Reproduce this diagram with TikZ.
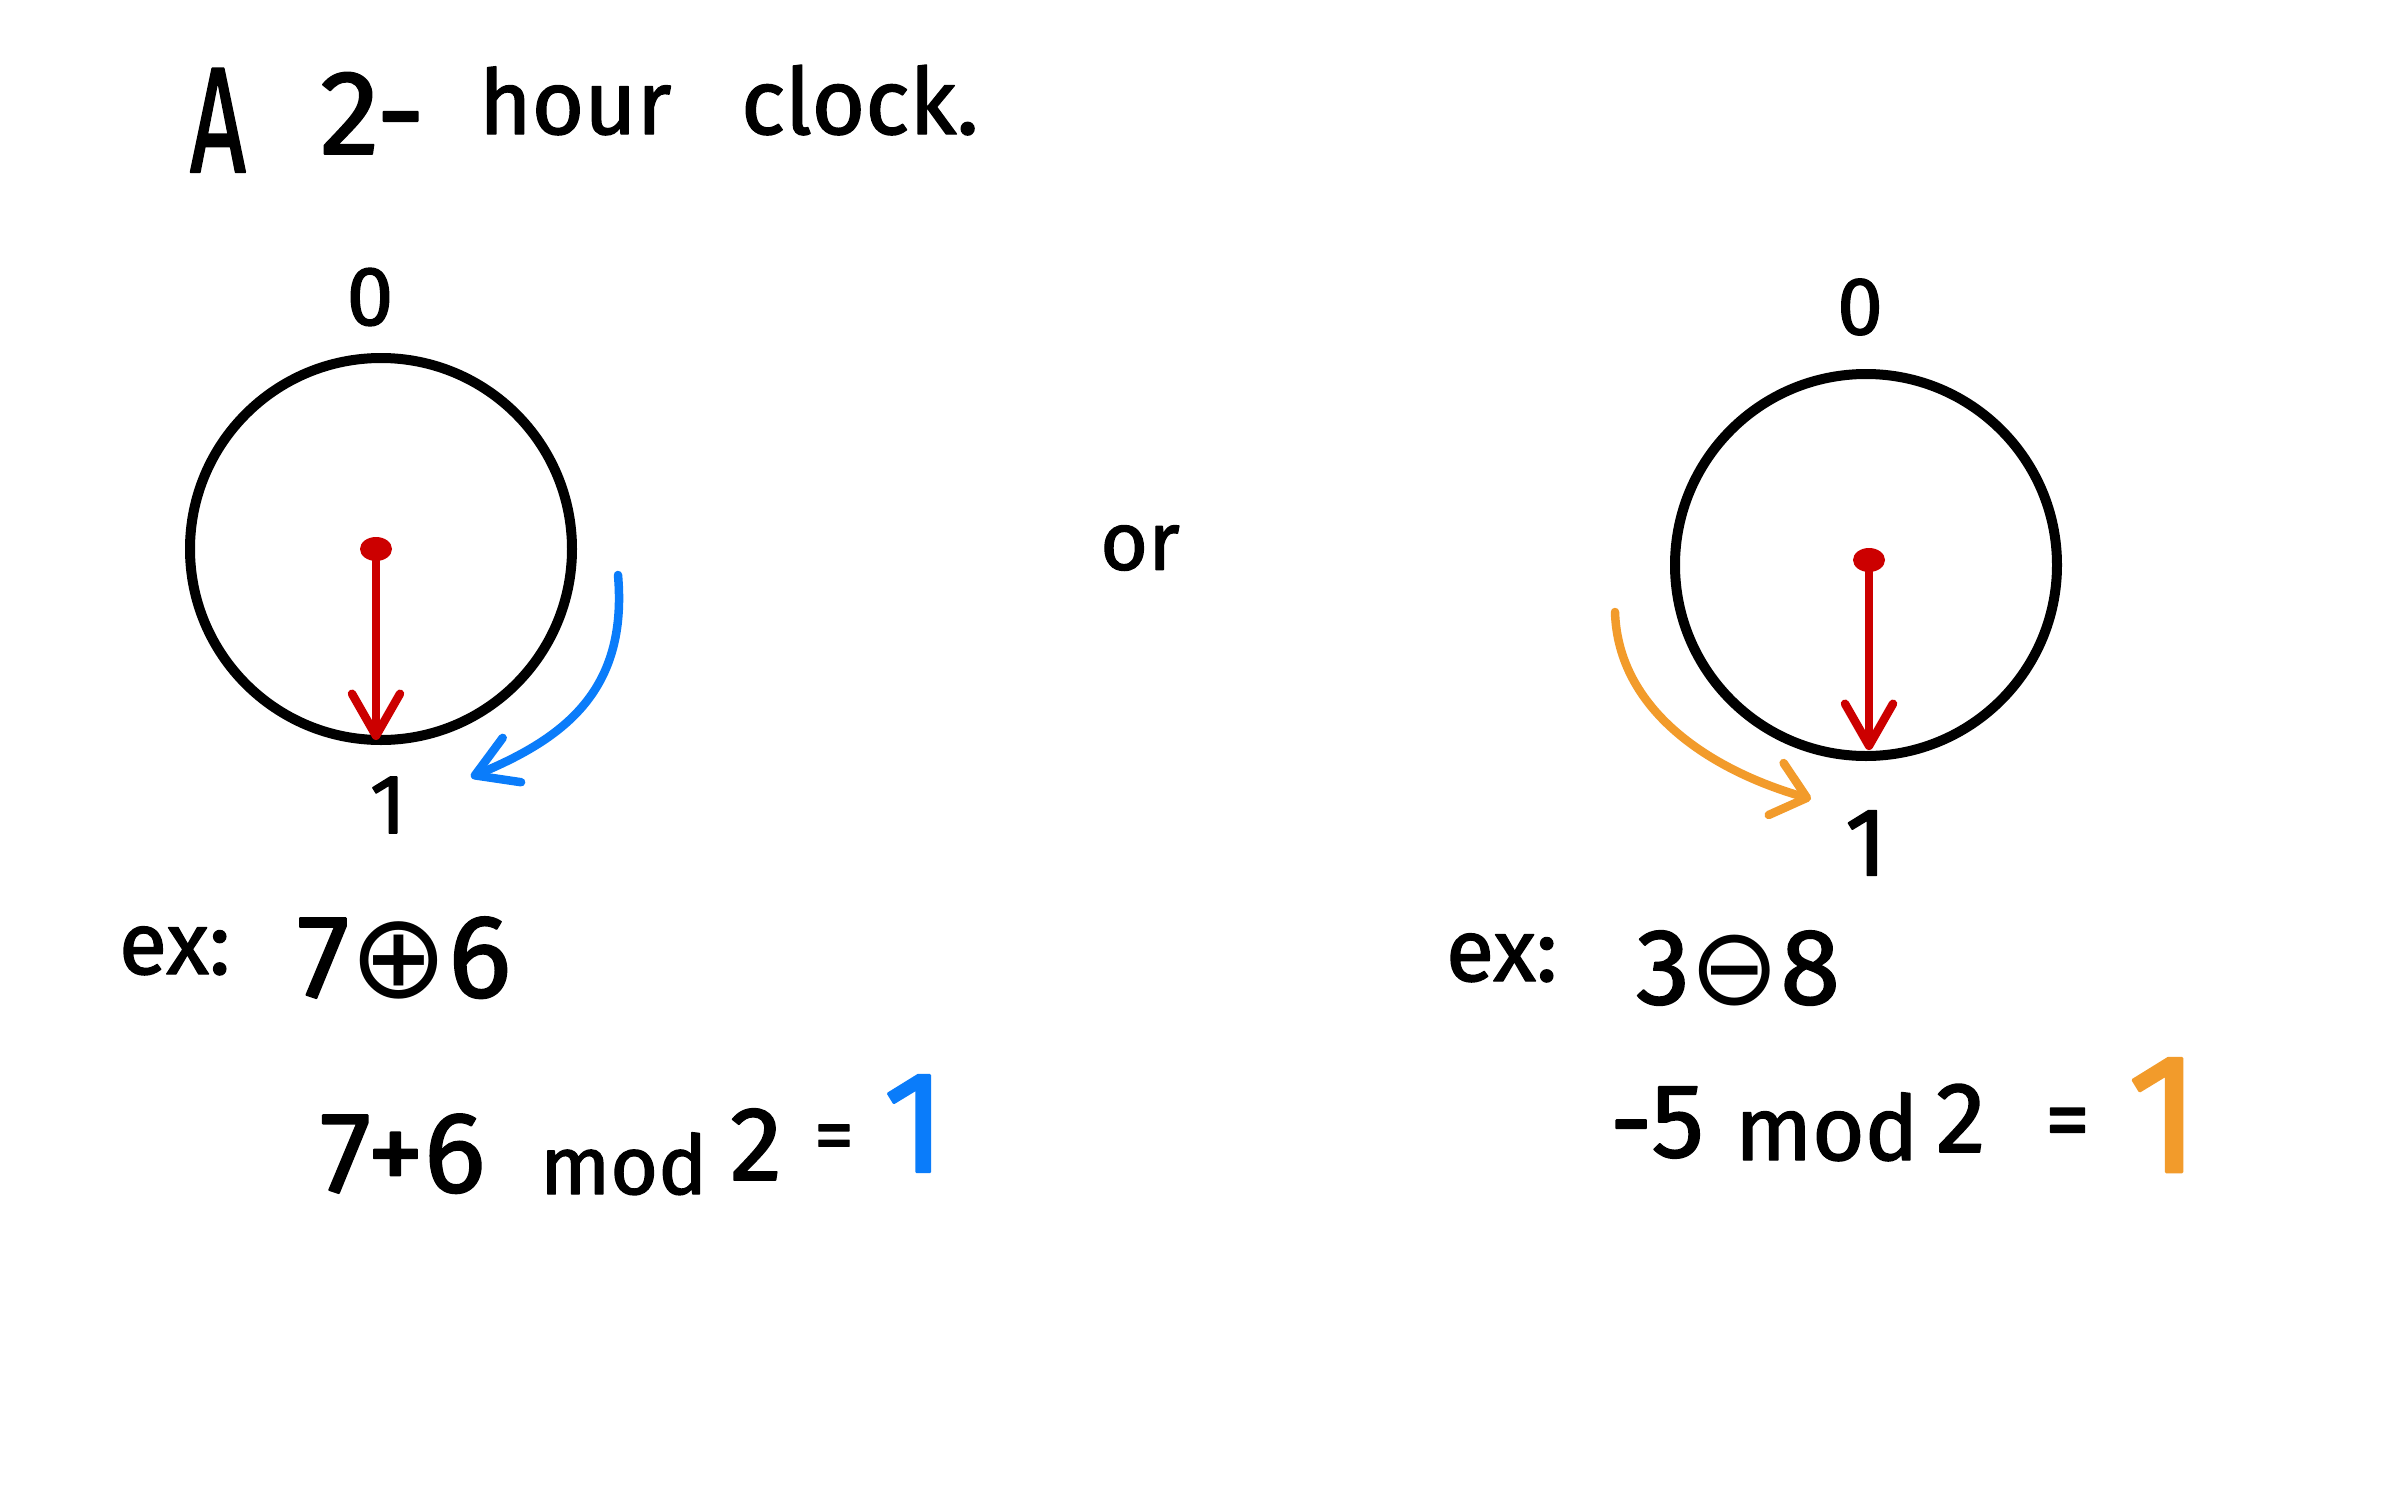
\documentclass[tikz,border=0pt]{standalone}
\usepackage{fontspec}
\setmainfont{Fira Sans}[FakeBold=1.6]
\newfontfamily\symf{DejaVu Sans}
\usetikzlibrary{arrows.meta,shapes.geometric}
\definecolor{clkred}{HTML}{CC0000}
\definecolor{clkblue}{HTML}{0A7CFA}
\definecolor{clkorange}{HTML}{F29B2B}
\newcommand\hsz[1]{\fontsize{#1}{#1}\selectfont}
\begin{document}
\begin{tikzpicture}[x=1pt,y=-1pt,line cap=round,line join=round,
  txt/.style={inner sep=0pt,outer sep=0pt},
  ring/.style={circle,draw=black,line width=10pt,minimum size=382pt,inner sep=0pt,outer sep=0pt},
  pivot/.style={ellipse,fill=clkred,minimum width=32pt,minimum height=24pt,inner sep=0pt,outer sep=0pt},
  hand/.style={draw=clkred,line width=8.5pt,-{Straight Barb[length=42pt,width=48pt,round]}},
  fwd/.style={draw=clkblue,line width=8.5pt,-{Straight Barb[length=40pt,width=48pt,round]}},
  bwd/.style={draw=clkorange,line width=8.5pt,-{Straight Barb[length=32pt,width=54pt,round]}}]
\useasboundingbox[fill=white] (0,0) rectangle (2386,1491);

% title
\node[txt,anchor=base west] (tA) at (190,172) {\hsz{150}\scalebox{0.65}[1]{A}};
\node[txt,anchor=base west] (t2) at (320,154) {\hsz{120}2-};
\node[txt,anchor=base west] (th) at (479,134) {\hsz{90}hour};
\node[txt,anchor=base west] (tc) at (741,134) {\hsz{92}clock.};

% left clock
\node[ring] (c1) at (381,549) {};
\node[txt] (z1) at (370,297) {\hsz{84}0};
\node[txt] (o1) at (388,805) {\hsz{84}1};
\node[pivot] (p1) at (376,549) {};
\coordinate (t1) at (376,740);
\draw[hand] (p1.center) -- (t1);
\coordinate (bs) at (618,575);
\coordinate (be) at (471,777);
\draw[fwd] (bs) .. controls (628,690) and (565,738) .. (be);

% or
\node[txt] (or) at (1140,548) {\hsz{82}or};

% right clock
\node[ring] (c2) at (1866,565) {};
\node[txt] (z2) at (1860,307) {\hsz{82}0};
\node[txt] (o2) at (1866,843) {\hsz{97}1};
\node[pivot] (p2) at (1869,560) {};
\coordinate (t2) at (1869,750);
\draw[hand] (p2.center) -- (t2);
\coordinate (os) at (1615,612);
\coordinate (oe) at (1811,799);
\draw[bwd] (os) .. controls (1618,710) and (1710,770) .. (oe);

% left example
\node[txt,anchor=base west] (ex1) at (119,974) {\hsz{88}ex:};
\node[txt,anchor=base west] (op1) at (297,997) {\hsz{118}7{\symf ⊕}6};
\node[txt,anchor=base west] (a1) at (320,1192) {\hsz{115}7+6};
\node[txt,anchor=base west] (m1) at (540,1194) {\hsz{82}mod};
\node[txt,anchor=base west] (n1) at (730,1180) {\hsz{105}2};
\node[txt,anchor=base west] (q1) at (814,1162) {\hsz{80}=};
\node[txt,anchor=base west,text=clkblue] (r1) at (883,1172) {\hsz{145}1};

% right example
\node[txt,anchor=base west] (ex2) at (1446,981) {\hsz{88}ex:};
\node[txt,anchor=base west] (op2) at (1636,1004) {\hsz{108}3{\symf ⊖}8};
\node[txt,anchor=base west] (a2) at (1610,1157) {\hsz{105}-5};
\node[txt,anchor=base west] (m2) at (1735,1160) {\hsz{90}mod};
\node[txt,anchor=base west] (n2) at (1936,1152) {\hsz{100}2};
\node[txt,anchor=base west] (q2) at (2045,1150) {\hsz{90}=};
\node[txt,anchor=base west,text=clkorange] (r2) at (2127,1172) {\hsz{170}1};
\end{tikzpicture}
\end{document}
